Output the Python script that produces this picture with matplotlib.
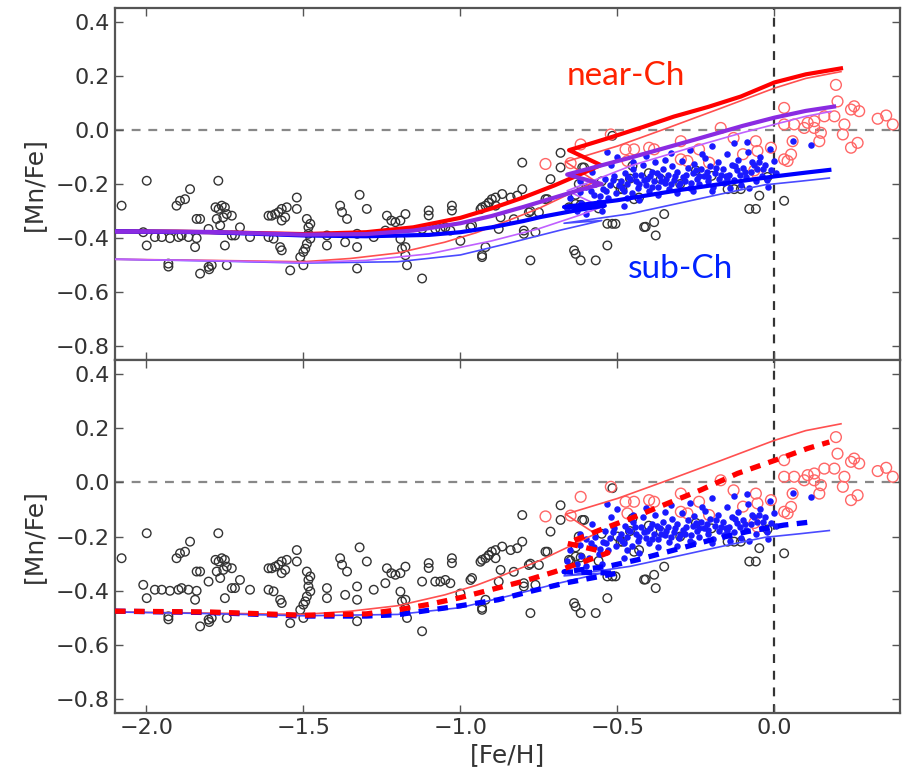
import matplotlib
matplotlib.use("Agg")
import matplotlib.pyplot as plt

plt.rcParams['font.family'] = ['DejaVu Sans']

# ---------------- data ----------------
black_feh = [-2.079,-1.999,-2.01,-1.999,-1.973,-1.951,-1.925,-1.898,-1.888,-1.866,-1.84,-1.893,-1.877,-1.904,-1.861,
             -1.93,-1.93,-1.829,-1.802,-1.792,-1.80,-1.845,-1.84,-1.829,-1.802,-1.771,-1.78,-1.77,-1.76,-1.75,
             -1.776,-1.755,-1.744,-1.728,-1.765,-1.75,-1.744,-1.728,-1.718,-1.702,-1.67,-1.611,-1.601,-1.59,-1.579,
             -1.569,-1.553,-1.569,-1.558,-1.611,-1.595,-1.574,-1.569,-1.542,-1.521,-1.521,-1.489,-1.484,-1.484,-1.478,
             -1.489,-1.494,-1.50,-1.51,-1.50,-1.478,-1.425,-1.425,-1.383,-1.377,-1.361,-1.367,-1.321,-1.329,-1.329,
             -1.329,-1.298,-1.276,-1.234,-1.22,-1.207,-1.191,-1.175,-1.239,-1.191,-1.175,-1.17,-1.186,-1.175,-1.122,
             -1.122,-1.101,-1.101,-1.08,-1.064,-1.048,-1.032,-1.027,-1.027,-1.0,-0.968,-0.931,-0.92,-0.91,-0.90,
             -0.888,-0.931,-0.963,-0.92,-0.931,
             -0.909,-0.888,-0.867,-0.84,-0.819,-0.803,-0.936,-0.872,-0.83,-0.878,-0.798,-0.798,-0.761,-0.777,-0.75,
             -0.782,-0.723,-0.713,-0.681,-0.681,-0.803,-0.729,-0.649,-0.633,-0.617,-0.606,-0.516,-0.452,-0.49,-0.447,
             -0.431,-0.362,-0.532,-0.516,-0.506,-0.415,-0.383,-0.378,-0.351,-0.532,-0.638,-0.633,-0.617,-0.569,-0.777,
             -0.149,-0.128,-0.107,-0.048,-0.08,-0.059,0.031,-0.022,-0.633,-0.654,-0.612,-0.623,-0.484,-0.41,-0.5,
             -0.46,-0.40,-0.55,-0.30,-0.25,-0.20,-0.56]
black_mnfe = [-0.28,-0.188,-0.378,-0.427,-0.396,-0.396,-0.40,-0.396,-0.39,-0.396,-0.40,-0.262,-0.256,-0.28,-0.219,
              -0.494,-0.505,-0.531,-0.506,-0.50,-0.515,-0.433,-0.329,-0.329,-0.366,-0.188,-0.286,-0.292,-0.28,-0.286,
              -0.329,-0.323,-0.311,-0.317,-0.353,-0.427,-0.50,-0.39,-0.39,-0.36,-0.396,-0.317,-0.317,-0.311,-0.304,
              -0.292,-0.286,-0.335,-0.323,-0.396,-0.402,-0.433,-0.445,-0.519,-0.25,-0.292,-0.329,-0.36,-0.384,-0.402,
              -0.421,-0.439,-0.451,-0.47,-0.50,-0.347,-0.39,-0.427,-0.28,-0.304,-0.329,-0.415,-0.24,-0.384,-0.433,
              -0.512,-0.292,-0.396,-0.317,-0.335,-0.341,-0.335,-0.311,-0.372,-0.403,-0.433,-0.50,-0.439,-0.463,-0.366,
              -0.549,-0.298,-0.316,-0.366,-0.366,-0.36,-0.372,-0.28,-0.298,-0.41,-0.36,-0.286,-0.28,-0.27,-0.256,
              -0.25,-0.463,-0.353,-0.433,-0.47,
              -0.268,-0.28,-0.237,-0.25,-0.243,-0.219,-0.293,-0.323,-0.33,-0.366,-0.372,-0.384,-0.378,-0.30,-0.305,
              -0.305,-0.256,-0.182,-0.139,-0.085,-0.121,-0.256,-0.289,-0.24,-0.277,-0.139,-0.022,-0.133,-0.219,-0.256,
              -0.25,-0.182,-0.347,-0.347,-0.347,-0.359,-0.341,-0.39,-0.311,-0.427,-0.445,-0.458,-0.482,-0.482,-0.482,
              -0.219,-0.219,-0.219,-0.243,-0.292,-0.292,-0.262,-0.174,-0.274,-0.286,-0.139,-0.20,-0.219,-0.358,-0.20,
              -0.18,-0.16,-0.19,-0.20,-0.15,-0.17,-0.29]

red_feh = [-0.729,-0.649,-0.617,-0.521,-0.474,-0.447,-0.399,-0.383,-0.468,-0.298,-0.298,-0.277,-0.24,-0.208,-0.171,
           -0.059,-0.054,-0.011,-0.064,-0.054,0.031,0.031,0.063,0.106,0.127,0.196,0.201,0.244,0.254,0.27,
           0.159,0.191,0.223,0.218,0.244,0.265,0.329,0.356,0.377,0.143,0.053,0.042,0.058,0.148,0.095,
           0.127,0.031,-0.13,-0.10]
red_mnfe = [-0.126,-0.123,-0.054,-0.017,-0.072,-0.072,-0.066,-0.072,-0.115,-0.042,-0.109,-0.115,-0.072,-0.121,0.007,
            -0.042,-0.078,-0.066,-0.15,-0.164,0.081,0.02,0.02,0.026,0.032,0.166,0.105,0.075,0.087,0.069,
            0.05,0.05,0.02,-0.017,-0.066,-0.048,0.041,0.053,0.02,-0.042,-0.091,-0.115,-0.042,-0.011,0.007,
            0.007,-0.109,-0.03,-0.09]

blue_feh = [-0.66,-0.65,-0.63,-0.62,-0.615,-0.60,-0.59,-0.575,-0.57,-0.56,-0.545,-0.54,-0.53,-0.525,-0.51,-0.505,
            -0.49,-0.485,-0.475,-0.47,-0.46,-0.455,-0.45,-0.44,-0.435,-0.425,-0.42,-0.41,-0.405,-0.40,-0.39,-0.385,
            -0.38,-0.37,-0.365,-0.355,-0.35,-0.34,-0.335,-0.325,-0.32,-0.31,-0.305,-0.295,-0.29,-0.285,-0.275,-0.27,
            -0.26,-0.255,-0.245,-0.24,-0.235,-0.225,-0.22,-0.21,-0.205,-0.195,-0.19,-0.18,-0.175,-0.165,-0.16,-0.15,
            -0.145,-0.135,-0.13,-0.12,-0.115,-0.105,-0.10,-0.09,-0.085,-0.075,-0.07,-0.06,-0.055,-0.045,-0.04,-0.03,
            -0.025,-0.015,-0.01,0.0,0.005,
            -0.58,-0.52,-0.47,-0.43,-0.37,-0.31,-0.26,-0.20,-0.14,-0.50,-0.41,-0.33,-0.27,-0.20,-0.13,-0.532,-0.086,
            0.06,0.116,-0.35,-0.23,-0.45,-0.02,-0.08,-0.62,-0.60,-0.55,-0.48,
            -0.515,-0.495,-0.465,-0.445,-0.415,-0.395,-0.375,-0.345,-0.315,-0.28,-0.25,-0.215,-0.185,-0.155,-0.125,
            -0.095,-0.065,-0.035,-0.535,-0.48,-0.43,-0.36,-0.30,-0.24,-0.17,-0.11,-0.05,-0.585,-0.555,-0.39,-0.33,
            -0.265,-0.21,-0.15]
blue_mnfe = [-0.29,-0.25,-0.30,-0.23,-0.27,-0.21,-0.28,-0.24,-0.20,-0.265,-0.22,-0.18,-0.25,-0.205,-0.17,-0.235,
             -0.19,-0.215,-0.16,-0.20,-0.18,-0.235,-0.145,-0.19,-0.215,-0.165,-0.13,-0.205,-0.18,-0.225,-0.155,-0.19,
             -0.12,-0.21,-0.17,-0.145,-0.195,-0.165,-0.22,-0.135,-0.185,-0.155,-0.205,-0.115,-0.175,-0.19,-0.14,-0.215,
             -0.16,-0.125,-0.18,-0.20,-0.145,-0.17,-0.105,-0.19,-0.135,-0.21,-0.16,-0.12,-0.18,-0.145,-0.195,-0.09,
             -0.165,-0.13,-0.185,-0.15,-0.11,-0.205,-0.14,-0.175,-0.08,-0.155,-0.12,-0.19,-0.145,-0.10,-0.17,-0.13,
             -0.185,-0.07,-0.15,-0.115,-0.16,
             -0.155,-0.13,-0.25,-0.26,-0.24,-0.235,-0.225,-0.225,-0.215,-0.10,-0.095,-0.085,-0.075,-0.06,-0.05,-0.081,
             -0.044,-0.04,-0.056,-0.11,-0.09,-0.12,-0.21,-0.215,-0.19,-0.31,-0.30,-0.28,
             -0.185,-0.205,-0.175,-0.165,-0.185,-0.17,-0.16,-0.18,-0.17,-0.165,-0.15,-0.155,-0.14,-0.17,-0.135,
             -0.155,-0.13,-0.145,-0.225,-0.225,-0.20,-0.19,-0.195,-0.17,-0.165,-0.165,-0.12,-0.225,-0.245,-0.21,
             -0.20,-0.195,-0.175,-0.18]

# model tracks (top panel: thick = one model set, thin = another)
red_thick_x = [-2.1,-1.9,-1.7,-1.5,-1.3,-1.15,-1.0,-0.9,-0.8,-0.7,-0.62,-0.553,-0.654,-0.53,-0.42,-0.32,-0.21,-0.107,0.0,0.1,0.212]
red_thick_y = [-0.375,-0.376,-0.38,-0.385,-0.378,-0.36,-0.325,-0.29,-0.25,-0.205,-0.165,-0.13,-0.075,-0.031,0.01,0.049,0.085,0.123,0.175,0.205,0.227]
red_thin_x = [-2.1,-1.8,-1.5,-1.35,-1.2,-1.05,-0.95,-0.87,-0.75,-0.65,-0.57,-0.665,-0.5,-0.34,-0.17,0.0,0.1,0.212]
red_thin_y = [-0.478,-0.482,-0.487,-0.475,-0.455,-0.415,-0.38,-0.345,-0.29,-0.235,-0.19,-0.118,-0.06,0.007,0.08,0.154,0.19,0.215]
pur_thick_x = [-2.1,-1.8,-1.5,-1.3,-1.15,-1.0,-0.9,-0.8,-0.7,-0.62,-0.55,-0.66,-0.45,-0.25,-0.1,0.0,0.1,0.19]
pur_thick_y = [-0.375,-0.377,-0.387,-0.385,-0.372,-0.345,-0.318,-0.285,-0.25,-0.222,-0.20,-0.165,-0.10,-0.035,0.015,0.045,0.07,0.086]
pur_thin_x = [-2.1,-1.8,-1.5,-1.3,-1.1,-0.9,-0.75,-0.62,-0.55,-0.66,-0.45,-0.25,-0.1,0.0,0.1,0.18]
pur_thin_y = [-0.478,-0.483,-0.49,-0.482,-0.458,-0.41,-0.365,-0.315,-0.285,-0.225,-0.13,-0.06,-0.01,0.02,0.05,0.068]
blu_thick_x = [-2.1,-1.8,-1.5,-1.3,-1.1,-1.0,-0.9,-0.8,-0.745,-0.62,-0.54,-0.67,-0.5,-0.3,-0.1,0.0,0.1,0.175]
blu_thick_y = [-0.375,-0.378,-0.39,-0.393,-0.388,-0.378,-0.36,-0.337,-0.322,-0.295,-0.28,-0.285,-0.26,-0.222,-0.188,-0.172,-0.158,-0.148]
blu_thin_x = [-2.1,-1.8,-1.5,-1.2,-1.0,-0.85,-0.68,-0.55,-0.67,-0.46,-0.3,-0.15,-0.03,0.08,0.175]
blu_thin_y = [-0.478,-0.484,-0.492,-0.487,-0.462,-0.42,-0.37,-0.335,-0.345,-0.31,-0.27,-0.232,-0.203,-0.19,-0.178]
# bottom panel dashed tracks
red_dash_x = [-2.1,-1.8,-1.5,-1.3,-1.2,-1.1,-1.0,-0.9,-0.8,-0.7,-0.6,-0.53,-0.66,-0.56,-0.45,-0.34,-0.235,-0.118,0.0,0.105,0.175]
red_dash_y = [-0.475,-0.478,-0.49,-0.485,-0.47,-0.45,-0.425,-0.395,-0.365,-0.33,-0.29,-0.26,-0.225,-0.178,-0.13,-0.078,-0.029,0.032,0.08,0.124,0.148]
blu_dash_x = [-2.1,-1.8,-1.5,-1.3,-1.2,-1.0,-0.88,-0.77,-0.665,-0.56,-0.5,-0.67,-0.53,-0.437,-0.32,-0.203,-0.086,0.03,0.105]
blu_dash_y = [-0.475,-0.48,-0.493,-0.493,-0.488,-0.455,-0.433,-0.40,-0.371,-0.348,-0.335,-0.33,-0.31,-0.286,-0.25,-0.213,-0.182,-0.158,-0.148]

xticks = [-2.0, -1.5, -1.0, -0.5, 0.0]
yticks = [-0.8, -0.6, -0.4, -0.2, 0.0, 0.2, 0.4]

# ---------------- figure ----------------
W, H = 909, 771
fig = plt.figure(figsize=(W/100, H/100), dpi=100)
ax1 = fig.add_axes([115/W, 1-360/H, 785/W, 352/H])
ax2 = fig.add_axes([115/W, 1-713/H, 785/W, 353/H])

frame_c = '#555555'
for ax in (ax1, ax2):
    ax.set_xlim(-2.1, 0.4)
    ax.set_ylim(-0.85, 0.45)
    ax.set_xticks(xticks)
    ax.set_yticks(yticks)
    ax.tick_params(direction='in', length=6, width=1, color=frame_c,
                   top=True, right=True, labelsize=16, labelcolor='#333333')
    for s in ax.spines.values():
        s.set_color(frame_c)
        s.set_linewidth(1.6)
    ax.axhline(0, color='#888888', lw=1.6, dashes=(4, 3.5), zorder=1)
    ax.axvline(0, color='#333333', lw=1.6, dashes=(4, 3.5), zorder=1)
    ax.scatter(black_feh, black_mnfe, s=38, facecolors='none', edgecolors='#333333', linewidths=1.0, zorder=2)
    ax.scatter(red_feh, red_mnfe, s=60, facecolors='none', edgecolors='#ff6666', linewidths=1.0, zorder=2)
    ax.scatter(blue_feh, blue_mnfe, s=22, color='#1a1aff', linewidths=0, zorder=3)
    ax.set_ylabel('[Mn/Fe]', fontsize=18, color='#333333')
    ax.yaxis.set_label_coords(-0.088, 0.5)

ax1.tick_params(labelbottom=False)

# top panel model lines
ax1.plot(red_thin_x, red_thin_y, color='#ff5050', lw=1.2, zorder=4)
ax1.plot(blu_thin_x, blu_thin_y, color='#4a4aff', lw=1.2, zorder=4)
ax1.plot(pur_thin_x, pur_thin_y, color='#c060ff', lw=1.2, zorder=4)
ax1.plot(red_thick_x, red_thick_y, color='#ff0000', lw=3.0, zorder=5)
ax1.plot(blu_thick_x, blu_thick_y, color='#0000ff', lw=3.0, zorder=5)
ax1.plot(pur_thick_x, pur_thick_y, color='#8a2be2', lw=3.0, zorder=5)

ax1.text(-0.662, 0.166, 'near-Ch', color='#ff2200', fontsize=24, family='Lato', ha='left', va='baseline', zorder=6)
ax1.text(-0.467, -0.546, 'sub-Ch', color='#0022ff', fontsize=24, family='Lato', ha='left', va='baseline', zorder=6)

# bottom panel
ax2.plot(red_thin_x, red_thin_y, color='#ff5050', lw=1.2, zorder=4)
ax2.plot(blu_thin_x, blu_thin_y, color='#4a4aff', lw=1.2, zorder=4)
ax2.plot(blu_dash_x, blu_dash_y, color='#0000ff', lw=3.8, dashes=(2.0, 1.6), zorder=5)
ax2.plot(red_dash_x, red_dash_y, color='#ff0000', lw=3.8, dashes=(2.0, 1.6), zorder=5)
ax2.set_xlabel('[Fe/H]', fontsize=18, color='#333333', labelpad=4)

fig.savefig('out.png', dpi=100)
